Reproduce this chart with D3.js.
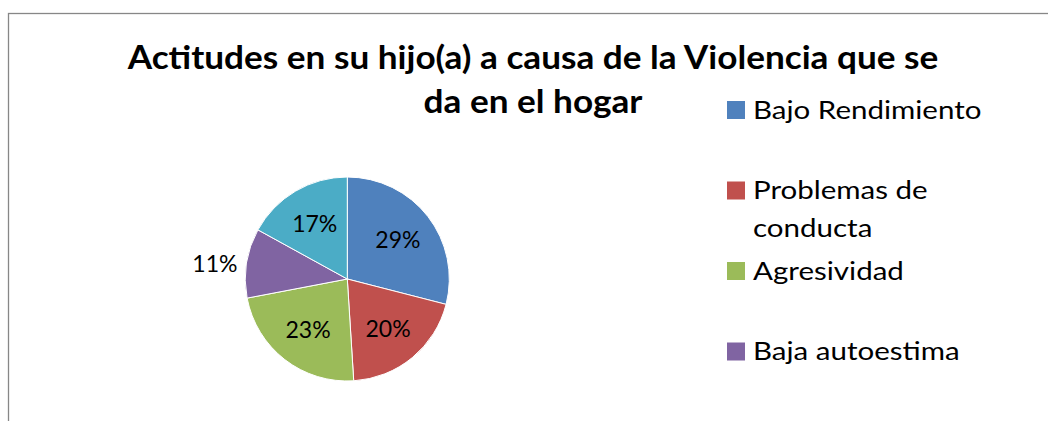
<!DOCTYPE html>
<html>
<head>
<meta charset="utf-8">
<script src="https://cdn.jsdelivr.net/npm/d3@7"></script>
<style>
  body { margin: 0; background: #fff; }
  svg { display: block; font-family: Lato, "Open Sans", sans-serif; }
</style>
</head>
<body>
<svg id="chart" width="1048" height="421"></svg>
<script>
// data
const categories = ["Bajo Rendimiento", "Problemas de conducta", "Agresividad", "Baja autoestima", "Otros"];
const values = [29, 20, 23, 11, 17];
const colors = ["#4F81BD", "#C0504D", "#9BBB59", "#8064A2", "#4BACC6"];
const legendLines = [["Bajo Rendimiento"], ["Problemas de", "conducta"], ["Agresividad"], ["Baja autoestima"], ["Otros"]];
const titleLines = ["Actitudes en su hijo(a) a causa de la Violencia que se", "da en el hogar"];

const svg = d3.select('#chart');
const width = +svg.attr('width');
const height = +svg.attr('height');

// the original picture is a bit wider than it is tall, so stretch text to match
function stretch(sel, k) {
  sel.each(function() {
    const w = this.getComputedTextLength();
    d3.select(this).attr('textLength', w * k).attr('lengthAdjust', 'spacingAndGlyphs')
  })
}

// chart frame (bottom and right edges fall outside the window)
svg.append('rect')
  .attr('x', 8.5).attr('y', 13.5)
  .attr('width', 1200).attr('height', 600)
  .attr('fill', 'none')
  .attr('stroke', '#878787')
  .attr('stroke-width', 1.3)

// title
const title = svg.append('g')
title.selectAll('text')
  .data(titleLines)
  .join('text')
  .attr('x', 533)
  .attr('y', (d, i) => 69 + i * 44)
  .attr('text-anchor', 'middle')
  .attr('font-size', 33)
  .attr('font-weight', 'bold')
  .attr('fill', '#000')
  .text(d => d)
  .call(stretch, 1.065)

// pie
const cx = 347.3, cy = 279, radius = 102;
const data = categories.map((c, i) => ({name: c, value: values[i], color: colors[i]}));

const pie = d3.pie().sort(null).value(d => d.value);
const arc = d3.arc().innerRadius(0).outerRadius(radius);
const labelArc = d3.arc().innerRadius(64).outerRadius(64);
const outerArc = d3.arc().innerRadius(134).outerRadius(134);

const g = svg.append('g').attr('transform', `translate(${cx},${cy})`)

g.selectAll('path')
  .data(pie(data))
  .join('path')
  .attr('d', arc)
  .attr('fill', d => d.data.color)
  .attr('stroke', '#fff')
  .attr('stroke-width', 1)

const total = d3.sum(values);
g.selectAll('text')
  .data(pie(data))
  .join('text')
  .attr('transform', d => {
    // small slices get their label outside, like excel's best fit
    const small = d.data.value / total < 0.15;
    const p = small ? outerArc.centroid(d) : labelArc.centroid(d);
    if (small) p[1] += 6;
    return `translate(${p[0]},${p[1]})`
  })
  .attr('dy', '0.35em')
  .attr('text-anchor', 'middle')
  .attr('font-size', 23.5)
  .attr('fill', '#000')
  .text(d => Math.round(d.data.value / total * 100) + '%')
  .call(stretch, 0.98)

// legend - items that don't fit in the chart area are dropped, like excel does
const legendTop = 101, legendStep = 80.5;
const legend = svg.append('g')
const item = legend.selectAll('g')
  .data(data.filter((d, i) => legendTop + i * legendStep + 18 < height))
  .join('g')
  .attr('transform', (d, i) => `translate(727,${legendTop + i * legendStep})`)

item.append('rect')
  .attr('width', 18)
  .attr('height', 18)
  .attr('fill', d => d.color)

item.each(function(d, i) {
  d3.select(this).selectAll('text')
    .data(legendLines[i])
    .join('text')
    .attr('x', 26)
    .attr('y', (t, j) => 17.5 + j * 38)
    .attr('font-size', 25)
    .attr('fill', '#000')
    .text(t => t)
    .call(stretch, 1.18)
})
</script>
</body>
</html>
